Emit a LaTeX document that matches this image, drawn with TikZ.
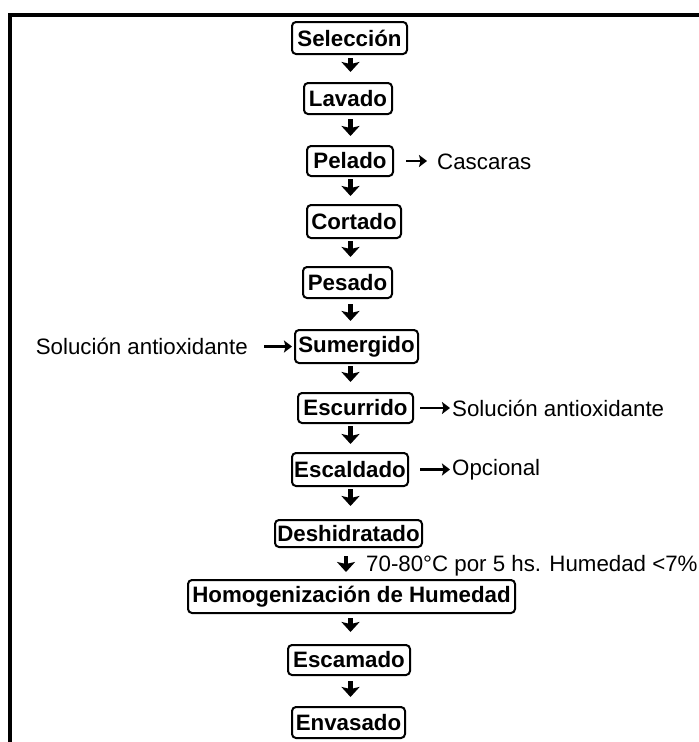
\documentclass[tikz,border=0pt]{standalone}
\usepackage{fontspec}
\setmainfont{Liberation Sans}
\usetikzlibrary{arrows.meta}
\begin{document}
\begin{tikzpicture}[x=1pt,y=-1pt,
  box/.style={draw, line width=2pt, rounded corners=4pt, inner sep=0pt,
    minimum height=31pt, font=\fontsize{22.3}{26}\selectfont\bfseries},
  lbl/.style={inner sep=0pt, font=\fontsize{22.3}{26}\selectfont},
  down/.style={line width=4.5pt, -{Stealth[length=10pt,width=18pt,inset=2pt]}},
  side/.style={line width=2.6pt, -{Stealth[length=8pt,width=12pt,inset=1.5pt]}}]
\useasboundingbox (0,0) rectangle (699,742);
\draw[line width=4pt] (10,742) -- (10,15) -- (699,15);
\coordinate (col) at (350.5,0);
\coordinate (col2) at (346,0);
% boxes
\node[box, minimum width=115pt, minimum height=32pt] (sel) at (349.5,38) {Selección};
\node[box, minimum width=88pt] (lav) at (348,98.5) {Lavado};
\node[box, minimum width=86pt, minimum height=30pt] (pel) at (350,161) {Pelado};
\node[box, minimum width=94pt, minimum height=33pt] (cor) at (354,221.5) {Cortado};
\node[box, minimum width=89pt] (pes) at (347.5,282.5) {Pesado};
\node[box, minimum width=123pt, minimum height=33pt] (sum) at (356.5,346.5) {Sumergido};
\node[box, minimum width=115pt, minimum height=30pt] (esc) at (355.5,408) {Escurrido};
\node[box, minimum width=116pt, minimum height=33pt] (escal) at (350,469.5) {Escaldado};
\node[box, minimum width=147pt, minimum height=27pt] (des) at (348.5,533.5) {Deshidratado};
\node[box, minimum width=327pt, minimum height=33pt] (hom) at (351.5,596.5) {Homogenización de Humedad};
\node[box, minimum width=122pt, minimum height=30pt] (esm) at (349,660) {Escamado};
\node[box, minimum width=113pt] (env) at (348.5,722.5) {Envasado};
% side labels
\node[lbl, anchor=west] (casc) at (437,162) {Cascaras};
\node[lbl, anchor=east] (sol1) at (248,346.5) {Solución antioxidante};
\node[lbl, anchor=west] (sol2) at (452,408) {Solución antioxidante};
\node[lbl, anchor=west] (opc) at (452,470) {Opcional};
\node[lbl, anchor=west] (temp) at (366,566) {70-80°C por 5 hs. Humedad <7\%};
% down arrows
\draw[down, shorten <=3pt, shorten >=10pt] (sel.south -| col) -- (lav.north -| col);
\draw[down, shorten <=4pt, shorten >=9pt] (lav.south -| col) -- (pel.north -| col);
\draw[down, shorten <=2pt, shorten >=8pt] (pel.south -| col) -- (cor.north -| col);
\draw[down, shorten <=2pt, shorten >=9pt] (cor.south -| col) -- (pes.north -| col);
\draw[down, shorten <=5pt, shorten >=8pt] (pes.south -| col) -- (sum.north -| col);
\draw[down, shorten <=2pt, shorten >=10pt] (sum.south -| col) -- (esc.north -| col);
\draw[down, shorten <=2pt, shorten >=8pt] (esc.south -| col) -- (escal.north -| col);
\draw[down, shorten <=2pt, shorten >=13pt] (escal.south -| col) -- (des.north -| col);
\draw[down, shorten <=8pt, shorten >=7pt] (des.south -| col2) -- (hom.north -| col2);
\draw[down, shorten <=4pt, shorten >=12pt] (hom.south -| col) -- (esm.north -| col);
\draw[down, shorten <=5pt, shorten >=9pt] (esm.south -| col) -- (env.north -| col);
% side arrows
\draw[side, shorten <=12pt, shorten >=10pt] (pel.east) -- (pel.east -| casc.west);
\draw[side, shorten <=16pt, shorten >=2pt] (sol1.east) -- (sol1.east -| sum.west);
\draw[side, shorten <=6pt, shorten >=2pt] (esc.east) -- (esc.east -| sol2.west);
\draw[side, shorten <=11pt, shorten >=2pt] (escal.east) -- (escal.east -| opc.west);
\end{tikzpicture}
\end{document}
